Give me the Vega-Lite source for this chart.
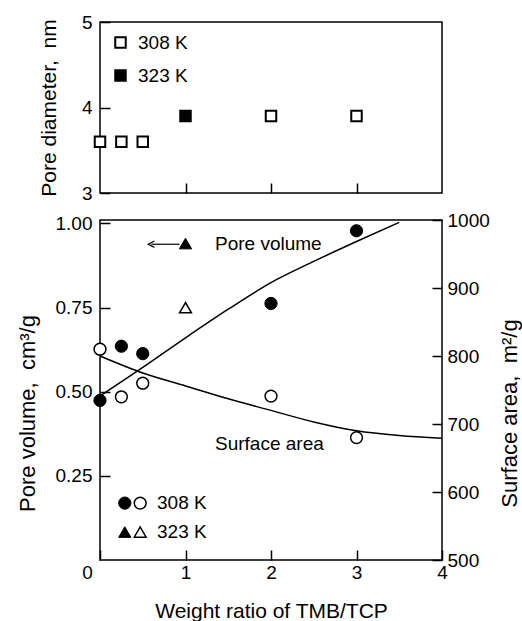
{
  "$schema": "https://vega.github.io/schema/vega-lite/v6.json",
  "padding": {"left": 15, "top": 12, "right": 5, "bottom": 5},
  "background": "white",
  "config": {
    "font": "Liberation Sans",
    "view": {"stroke": "black", "strokeWidth": 1.5},
    "axis": {
      "domain": false, "grid": false, "tickColor": "black", "tickWidth": 1.5, "tickSize": -10,
      "labelColor": "black", "titleColor": "black", "labelFontSize": 19, "titleFontWeight": "normal",
      "labelFont": "Liberation Sans", "titleFont": "Liberation Sans", "labelOverlap": false, "labelFlush": false
    },
    "legend": {"labelFont": "Liberation Sans", "labelColor": "black"}
  },
  "bounds": "flush",
  "spacing": 27,
  "resolve": {
    "scale": {"shape": "independent", "fill": "independent"},
    "legend": {"shape": "independent", "fill": "independent"}
  },
  "datasets": {
    "diam": [
      {"ratio": 0, "diameter": 3.6, "T": "308 K"},
      {"ratio": 0.25, "diameter": 3.6, "T": "308 K"},
      {"ratio": 0.5, "diameter": 3.6, "T": "308 K"},
      {"ratio": 1, "diameter": 3.9, "T": "323 K"},
      {"ratio": 2, "diameter": 3.9, "T": "308 K"},
      {"ratio": 3, "diameter": 3.9, "T": "308 K"}
    ],
    "pvpts": [
      {"ratio": 0, "pv": 0.474, "K": "308 K"},
      {"ratio": 0.25, "pv": 0.635, "K": "308 K"},
      {"ratio": 0.5, "pv": 0.613, "K": "308 K"},
      {"ratio": 2, "pv": 0.762, "K": "308 K"},
      {"ratio": 3, "pv": 0.978, "K": "308 K"},
      {"ratio": 1, "pv": 0.94, "K": "323 K"}
    ],
    "sapts": [
      {"ratio": 0, "sa": 810, "K": "308 K"},
      {"ratio": 0.25, "sa": 740, "K": "308 K"},
      {"ratio": 0.5, "sa": 760, "K": "308 K"},
      {"ratio": 2, "sa": 741, "K": "308 K"},
      {"ratio": 3, "sa": 680, "K": "308 K"},
      {"ratio": 1, "sa": 871, "K": "323 K"}
    ],
    "pvcurve": [
      {"ratio": 0, "pv": 0.487},
      {"ratio": 0.5, "pv": 0.572},
      {"ratio": 1, "pv": 0.66},
      {"ratio": 1.5, "pv": 0.745},
      {"ratio": 2, "pv": 0.824},
      {"ratio": 2.5, "pv": 0.887},
      {"ratio": 3, "pv": 0.946},
      {"ratio": 3.5, "pv": 1.003}
    ],
    "sacurve": [
      {"ratio": 0, "sa": 800},
      {"ratio": 0.5, "sa": 775},
      {"ratio": 1, "sa": 756},
      {"ratio": 1.5, "sa": 737},
      {"ratio": 2, "sa": 720},
      {"ratio": 2.5, "sa": 703},
      {"ratio": 3, "sa": 690},
      {"ratio": 3.5, "sa": 683},
      {"ratio": 4, "sa": 679}
    ],
    "notes": [
      {"ratio": 1.345, "pv": 0.938, "label": "Pore volume"},
      {"ratio": 1.345, "pv": 0.344, "label": "Surface area"},
      {"ratio": 0.667, "pv": 0.169, "label": "308 K"},
      {"ratio": 0.667, "pv": 0.083, "label": "323 K"}
    ],
    "keyfilled": [
      {"ratio": 0.29, "pv": 0.169, "K": "308 K"},
      {"ratio": 0.29, "pv": 0.083, "K": "323 K"}
    ],
    "keyopen": [
      {"ratio": 0.47, "pv": 0.169, "K": "308 K"},
      {"ratio": 0.47, "pv": 0.083, "K": "323 K"}
    ],
    "arrow": [
      {"ratio": 0.6, "ratio2": 0.93, "pv": 0.938}
    ]
  },
  "vconcat": [
    {
      "width": 342,
      "height": 171,
      "data": {"name": "diam"},
      "mark": {"type": "point", "shape": "square", "filled": true, "stroke": "black", "strokeWidth": 2, "size": 110, "opacity": 1},
      "encoding": {
        "x": {"field": "ratio", "type": "quantitative", "scale": {"domain": [0, 4], "nice": false},
              "axis": {"values": [1, 2, 3], "labels": false, "title": null}},
        "y": {"field": "diameter", "type": "quantitative", "scale": {"domain": [3, 5], "nice": false, "zero": false},
              "axis": {"values": [3, 3.5, 4, 4.5, 5], "labelExpr": "datum.value % 1 == 0 ? '' + datum.value : ''",
                       "tickSize": {"condition": {"test": "datum.value % 1 == 0", "value": -10}, "value": 0},
                       "title": "Pore diameter,\u00a0 nm", "titleFontSize": 21, "labelPadding": 18, "titlePadding": 22}},
        "fill": {"field": "T", "type": "nominal",
                 "scale": {"domain": ["308 K", "323 K"], "range": ["white", "black"]},
                 "legend": {"orient": "top-left", "offset": 11, "padding": 0, "title": null, "symbolType": "square",
                            "symbolSize": 110, "symbolStrokeColor": "black", "symbolStrokeWidth": 2,
                            "labelFontSize": 19, "labelOffset": 8, "rowPadding": 13}}
      }
    },
    {
      "width": 342,
      "height": 340,
      "layer": [
        {
          "layer": [
            {
              "data": {"name": "pvcurve"},
              "mark": {"type": "line", "color": "black", "strokeWidth": 1.5, "interpolate": "monotone"},
              "encoding": {
                "x": {"field": "ratio", "type": "quantitative", "scale": {"domain": [0, 4], "nice": false},
                      "axis": {"values": [0, 1, 2, 3, 4], "format": "d", "title": "Weight ratio of TMB/TCP", "titleFontSize": 21,
                               "labelPadding": 13, "titlePadding": 18,
                               "labelOffset": {"condition": {"test": "datum.value == 0", "value": -13}, "value": 0}}},
                "y": {"field": "pv", "type": "quantitative", "scale": {"domain": [0, 1.01], "nice": false},
                      "axis": {"values": [0.25, 0.5, 0.75, 1], "format": ".2f", "title": "Pore volume,\u00a0 cm³/g",
                               "titleFontSize": 22, "labelPadding": 18, "titlePadding": 16, "titleY": 193}}
              }
            },
            {
              "data": {"name": "pvpts"},
              "mark": {"type": "point", "filled": true, "color": "black", "stroke": "black", "strokeWidth": 1, "size": 150, "opacity": 1},
              "encoding": {
                "x": {"field": "ratio", "type": "quantitative"},
                "y": {"field": "pv", "type": "quantitative"},
                "shape": {"field": "K", "type": "nominal", "scale": {"domain": ["308 K", "323 K"], "range": ["circle", "triangle-up"]}, "legend": null}
              }
            },
            {
              "data": {"name": "keyfilled"},
              "mark": {"type": "point", "filled": true, "color": "black", "stroke": "black", "strokeWidth": 1, "size": 150, "opacity": 1},
              "encoding": {
                "x": {"field": "ratio", "type": "quantitative"},
                "y": {"field": "pv", "type": "quantitative"},
                "shape": {"field": "K", "type": "nominal", "legend": null}
              }
            },
            {
              "data": {"name": "keyopen"},
              "mark": {"type": "point", "filled": true, "fill": "white", "stroke": "black", "strokeWidth": 1.5, "size": 140, "opacity": 1},
              "encoding": {
                "x": {"field": "ratio", "type": "quantitative"},
                "y": {"field": "pv", "type": "quantitative"},
                "shape": {"field": "K", "type": "nominal", "legend": null}
              }
            },
            {
              "data": {"name": "arrow"},
              "mark": {"type": "rule", "color": "black", "strokeWidth": 1.2},
              "encoding": {
                "x": {"field": "ratio", "type": "quantitative"},
                "x2": {"field": "ratio2"},
                "y": {"field": "pv", "type": "quantitative"}
              }
            },
            {
              "data": {"name": "arrow"},
              "mark": {"type": "point", "shape": "M1,-1L-1,0L1,1", "filled": false, "color": "black", "strokeWidth": 1.2, "size": 40, "opacity": 1},
              "encoding": {
                "x": {"field": "ratio", "type": "quantitative"},
                "y": {"field": "pv", "type": "quantitative"}
              }
            },
            {
              "data": {"name": "notes"},
              "mark": {"type": "text", "align": "left", "baseline": "middle", "fontSize": 19, "color": "black", "font": "Liberation Sans"},
              "encoding": {
                "x": {"field": "ratio", "type": "quantitative"},
                "y": {"field": "pv", "type": "quantitative"},
                "text": {"field": "label"}
              }
            }
          ]
        },
        {
          "layer": [
            {
              "data": {"name": "sacurve"},
              "mark": {"type": "line", "color": "black", "strokeWidth": 1.5, "interpolate": "monotone"},
              "encoding": {
                "x": {"field": "ratio", "type": "quantitative"},
                "y": {"field": "sa", "type": "quantitative", "scale": {"domain": [500, 1000], "nice": false, "zero": false},
                      "axis": {"orient": "right", "values": [500, 600, 700, 800, 900, 1000], "format": "d", "title": "Surface area,\u00a0 m²/g",
                               "titleFontSize": 22, "labelPadding": 15, "titlePadding": 10, "titleAngle": 270, "titleBaseline": "top", "titleY": 193}}
              }
            },
            {
              "data": {"name": "sapts"},
              "mark": {"type": "point", "filled": true, "fill": "white", "stroke": "black", "strokeWidth": 1.5, "size": 140, "opacity": 1},
              "encoding": {
                "x": {"field": "ratio", "type": "quantitative"},
                "y": {"field": "sa", "type": "quantitative"},
                "shape": {"field": "K", "type": "nominal", "scale": {"domain": ["308 K", "323 K"], "range": ["circle", "triangle-up"]}, "legend": null}
              }
            }
          ]
        }
      ],
      "resolve": {"scale": {"y": "independent"}}
    }
  ]
}
